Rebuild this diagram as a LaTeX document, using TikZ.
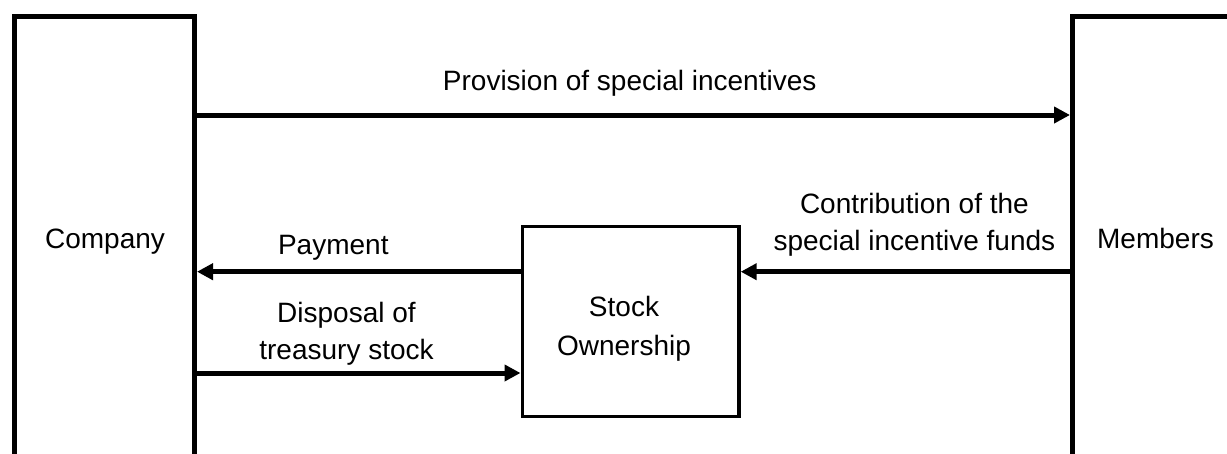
\documentclass[tikz,border=0pt]{standalone}
\usepackage{fontspec}
\setmainfont{Liberation Sans}
\usetikzlibrary{arrows.meta}
\begin{document}
\begin{tikzpicture}[x=1pt,y=-1pt,
  bigbox/.style={draw, line width=5pt, minimum height=600pt, inner sep=0pt},
  stockbox/.style={draw, line width=3.5pt, minimum width=216.7pt, minimum height=190pt, inner sep=0pt},
  lbl/.style={anchor=base, inner sep=0pt, font=\fontsize{28}{34}\selectfont},
  arr/.style={line width=5pt, -{Triangle[length=16pt,width=16pt]}}]
\useasboundingbox (0,0) rectangle (1227,453);
% boxes
\node[bigbox, minimum width=180pt] (comp) at (104.5,316.5) {};
\node[bigbox, minimum width=300pt] (mem) at (1222.5,316.5) {};
\node[stockbox] (stock) at (630.6,321.3) {};
% labels
\node[lbl] (complbl) at (105,248.5) {Company};
\node[lbl] (memlbl) at (1155.5,248) {Members};
\node[lbl] (stock1) at (624,316) {Stock};
\node[lbl] (stock2) at (624,355.5) {Ownership};
\node[lbl] (prov) at (629.7,90) {Provision of special incentives};
\node[lbl] (pay) at (333.3,254.5) {Payment};
\node[lbl] (disp1) at (346.5,322.7) {Disposal of};
\node[lbl] (disp2) at (346.5,359.7) {treasury stock};
\node[lbl] (contr1) at (914.4,213.3) {Contribution of the};
\node[lbl] (contr2) at (914.4,250) {special incentive funds};
% arrow heights
\coordinate (yprov) at (0,115);
\coordinate (ypay) at (0,271.7);
\coordinate (ydisp) at (0,373);
% connectors
\draw[arr] (comp.east |- yprov) -- (mem.west |- yprov);
\draw[arr] (stock.west |- ypay) -- (comp.east |- ypay);
\draw[arr] (mem.west |- ypay) -- (stock.east |- ypay);
\draw[arr] (comp.east |- ydisp) -- (stock.west |- ydisp);
\end{tikzpicture}
\end{document}
